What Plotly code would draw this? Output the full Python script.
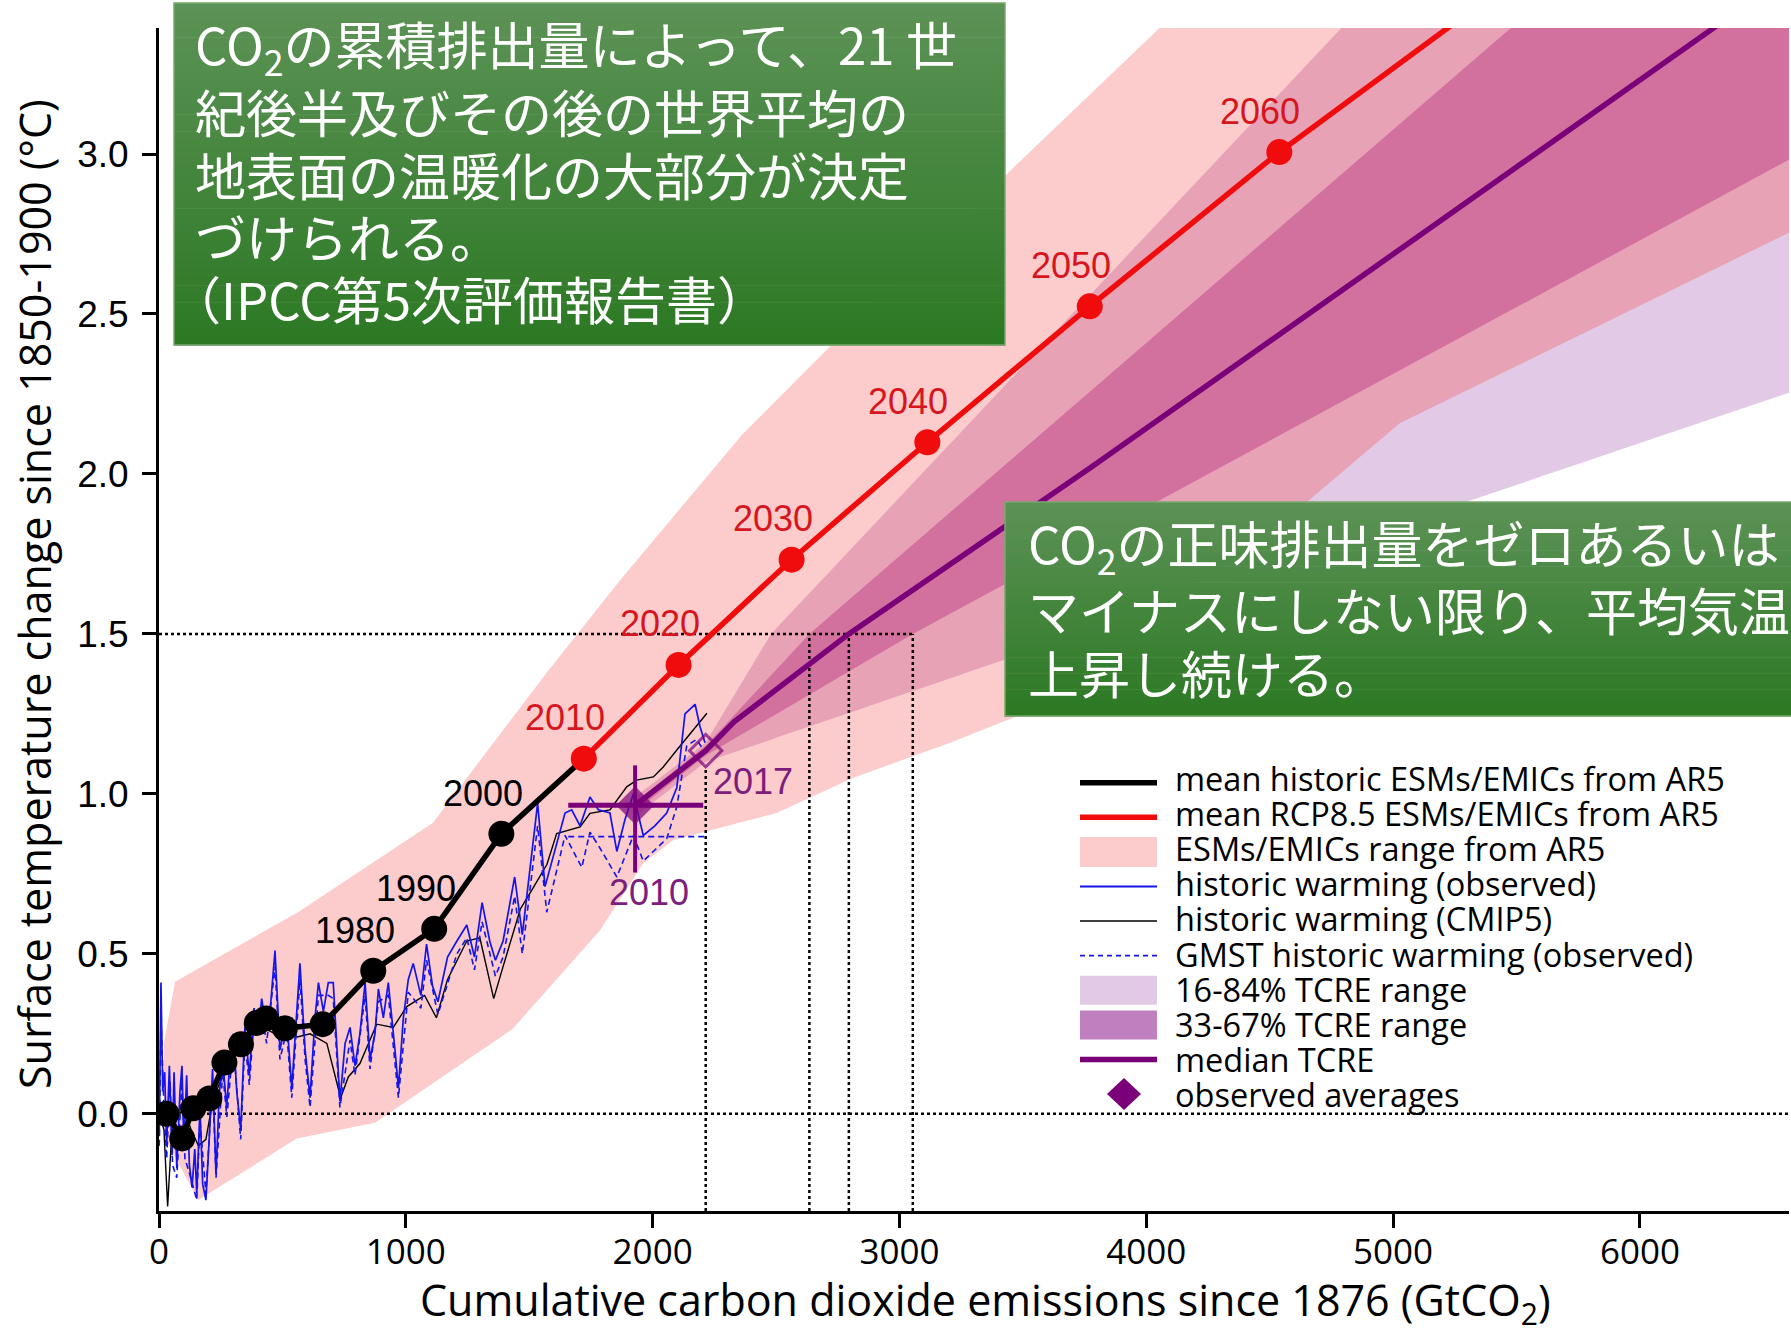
import numpy as np
import plotly.graph_objects as go

# ---------------------------------------------------------------- data
# mean historic ESMs/EMICs from AR5 (decadal means, 1880-2000)
hist_x = [30, 94, 139, 204, 265, 332, 396, 434, 510, 663, 868, 1115, 1387]
hist_y = [0.00, -0.077, 0.017, 0.048, 0.160, 0.217, 0.284, 0.298, 0.267, 0.280, 0.447, 0.578, 0.875]
hist_years = ["1880", "1890", "1900", "1910", "1920", "1930", "1940",
              "1950", "1960", "1970", "1980", "1990", "2000"]
hist_labelled = ["1980", "1990", "2000"]

# mean RCP8.5 ESMs/EMICs from AR5 (decadal means, 2010-2070)
rcp_x = [1721, 2105, 2563, 3113, 3771, 4539, 5390]
rcp_y = [1.110, 1.403, 1.732, 2.099, 2.524, 3.006, 3.490]
rcp_years = ["2010", "2020", "2030", "2040", "2050", "2060", "2070"]

# ESMs/EMICs range from AR5 (upper / lower envelope)
esm_upper_x = [20, 65, 563, 1110, 1572, 1868, 2364, 2780, 3478, 4053, 4300]
esm_upper_y = [0.22, 0.413, 0.63, 0.91, 1.38, 1.668, 2.124, 2.446, 2.97, 3.393, 3.58]
esm_lower_x = [20, 159, 558, 875, 1432, 1787, 1962, 2084, 2502, 2813, 3205, 3500, 4660, 5028, 6601, 6700]
esm_lower_y = [-0.07, -0.27, -0.077, -0.028, 0.265, 0.574, 0.783, 0.856, 0.94, 1.05, 1.16, 1.25, 1.918, 2.159, 2.753, 2.79]

# TCRE projections from the observed averages
tcre_med_x = [1929, 2215, 2330, 2795, 3775, 6309, 6750]
tcre_med_y = [0.964, 1.135, 1.225, 1.500, 2.020, 3.400, 3.640]
tcre33_up_x = [1929, 2215, 2635, 5486, 5800]
tcre33_up_y = [0.975, 1.150, 1.500, 3.400, 3.610]
tcre67_lo_x = [1929, 2215, 3054, 6601, 6700]
tcre67_lo_y = [0.945, 1.120, 1.500, 2.981, 3.022]
tcre16_up_x = [1929, 2215, 2480, 4798, 5000]
tcre16_up_y = [0.990, 1.160, 1.500, 3.400, 3.566]
tcre84_lo_x = [1929, 2215, 5316, 6601, 6700]
tcre84_lo_y = [0.930, 1.100, 1.918, 2.253, 2.279]

# historic warming (observed)
obs_x = [1, 8, 15, 23, 31, 42, 53, 61, 72, 85, 93, 101, 112, 123, 134, 145, 153, 166, 177, 190,
         204, 217, 231, 244, 258, 274, 288, 301, 315, 331, 348, 366, 385, 402, 416, 436, 452, 470,
         490, 517, 538, 555, 571, 592, 612, 632, 646, 666, 686, 706, 733, 754, 774, 794, 814, 835,
         855, 875, 889, 909, 929, 956, 970, 990, 1010, 1030, 1061, 1084, 1108, 1130, 1169, 1207,
         1247, 1278, 1309, 1340, 1363, 1394, 1441, 1472, 1495, 1534, 1564, 1598, 1645, 1672, 1706,
         1746, 1780, 1827, 1855, 1888, 1922, 1962, 2009, 2057, 2098, 2131, 2172, 2192, 2212]
obs_y = [-0.07, 0.41, 0.07, 0.13, -0.10, 0.15, -0.13, 0.13, -0.17, 0.07, 0.15, -0.11, 0.12, -0.16,
         -0.23, -0.11, -0.25, 0.02, -0.22, -0.27, -0.07, 0.14, -0.19, 0.06, 0.17, 0.02, 0.17, 0.25,
         0.07, -0.05, 0.27, 0.12, 0.33, 0.25, 0.36, 0.26, 0.34, 0.51, 0.20, 0.30, 0.08, 0.30, 0.47,
         0.20, 0.05, 0.30, 0.41, 0.32, 0.41, 0.41, 0.04, 0.22, 0.27, 0.15, 0.25, 0.41, 0.17, 0.25,
         0.39, 0.30, 0.41, 0.20, 0.08, 0.30, 0.42, 0.47, 0.37, 0.53, 0.40, 0.35, 0.49, 0.54, 0.59,
         0.49, 0.66, 0.54, 0.48, 0.54, 0.74, 0.56, 0.71, 0.97, 0.71, 0.81, 0.94, 0.95, 0.90, 0.99,
         0.95, 0.94, 0.82, 0.92, 1.00, 0.87, 0.90, 0.94, 1.02, 1.25, 1.28, 1.21, 1.16]

# GMST historic warming (observed)
gmst_x = [1, 8, 20, 31, 45, 55, 72, 93, 105, 125, 153, 166, 190, 217, 231, 258, 275, 301, 331,
          348, 366, 385, 416, 436, 470, 490, 517, 538, 571, 592, 612, 646, 686, 706, 733, 774, 794,
          835, 855, 889, 929, 970, 1010, 1061, 1084, 1130, 1207, 1247, 1278, 1309, 1363, 1394, 1441,
          1472, 1534, 1571, 1645, 1713, 1746, 1787, 1855, 1922, 1962, 2057, 2098, 2138, 2178, 2212]
gmst_y = [-0.10, 0.30, 0.02, -0.14, 0.10, -0.16, -0.20, 0.10, -0.14, -0.19, -0.27, -0.02, -0.25,
          0.10, -0.20, 0.13, -0.01, 0.22, -0.08, 0.23, 0.09, 0.29, 0.32, 0.22, 0.46, 0.17, 0.26,
          0.05, 0.42, 0.17, 0.02, 0.37, 0.37, 0.36, 0.02, 0.23, 0.12, 0.37, 0.14, 0.35, 0.37, 0.05,
          0.38, 0.33, 0.48, 0.31, 0.50, 0.55, 0.45, 0.60, 0.43, 0.49, 0.68, 0.50, 0.90, 0.63, 0.87,
          0.77, 0.88, 0.83, 0.74, 0.87, 0.79, 0.86, 0.96, 1.15, 1.17, 1.13]

# historic warming (CMIP5)
cmip_x = [0, 20, 35, 51, 70, 99, 130, 160, 190, 220, 260, 300, 340, 380, 420, 470, 520, 560, 612,
          680, 736, 767, 814, 882, 949, 1004, 1076, 1124, 1169, 1247, 1300, 1356, 1394, 1464, 1511,
          1572, 1611, 1652, 1706, 1746, 1827, 1895, 1935, 2003, 2043, 2098, 2152, 2220]
cmip_y = [0.00, -0.05, -0.29, -0.07, -0.02, 0.02, -0.05, -0.10, -0.08, 0.05, 0.12, 0.18, 0.22,
          0.25, 0.27, 0.25, 0.26, 0.24, 0.25, 0.22, 0.05, 0.115, 0.157, 0.28, 0.27, 0.335, 0.37,
          0.30, 0.42, 0.54, 0.55, 0.36, 0.46, 0.64, 0.70, 0.78, 0.876, 0.886, 0.897, 0.939, 0.95,
          1.022, 1.043, 1.053, 1.084, 1.137, 1.189, 1.252]

# observed averages (2010 period mean with ranges, 2017 estimate)
avg_x = [1929, 2215]
avg_y = [0.964, 1.135]
avg_labels = ["2010", "2017"]
avg_x_minus = [271, 0]
avg_x_plus = [276, 0]
avg_y_minus = [0.21, 0]
avg_y_plus = [0.125, 0]
gmst_avg_x = [1658, 2212]
gmst_avg_y = [0.866, 0.866]

# 1.5 degC threshold and the matching cumulative emissions
threshold = 1.5
budget_x = [2635, 2795, 3054]

legend_labels = [
    "mean historic ESMs/EMICs from AR5",
    "mean RCP8.5 ESMs/EMICs from AR5",
    "ESMs/EMICs range from AR5",
    "historic warming (observed)",
    "historic warming (CMIP5)",
    "GMST historic warming (observed)",
    "16-84% TCRE range",
    "33-67% TCRE range",
    "median TCRE",
    "observed averages",
]

box1_lines = [
    "CO<sub>2</sub>の累積排出量によって、21 世",
    "紀後半及びその後の世界平均の",
    "地表面の温暖化の大部分が決定",
    "づけられる。",
    "（IPCC第5次評価報告書）",
]
box2_lines = [
    "CO<sub>2</sub>の正味排出量をゼロあるいは",
    "マイナスにしない限り、平均気温は",
    "上昇し続ける。",
]

x_title = "Cumulative carbon dioxide emissions since 1876 (GtCO<sub>2</sub>)"
y_title = "Surface temperature change since 1850-1900 (°C)"
x_ticks = [0, 1000, 2000, 3000, 4000, 5000, 6000]
y_ticks = [0.0, 0.5, 1.0, 1.5, 2.0, 2.5, 3.0]

# ---------------------------------------------------------------- layout geometry
W, H = 1791, 1331
L, R, T, B = 159, 1789, 28, 1211
X_RANGE = [0, 6604]
Y_RANGE = [-0.304, 3.394]
FAR_X, FAR_Y = 7200, 4.6          # polygon closure beyond the visible area


def pxx(p):
    return (p - L) / (R - L)


def pxy(p):
    return (B - p) / (B - T)


# colours
PINK = "rgb(252,203,203)"
TCRE_OUT = "rgb(226,201,230)"
TCRE_OUT_ON_PINK = "rgb(232,162,181)"
TCRE_IN = "rgb(211,113,158)"
TCRE_IN_KEY = "rgb(192,128,192)"
PURPLE = "rgb(122,0,122)"
PURPLE_TXT = "rgb(125,30,125)"
RED = "rgb(240,12,12)"
RED_TXT = "rgb(214,22,30)"
BLUE = "rgb(20,20,235)"

fig = go.Figure()


def area(xs, ys, color):
    fig.add_trace(go.Scatter(x=xs, y=ys, fill="toself", fillcolor=color, mode="none",
                             hoverinfo="skip", showlegend=False))


def line(xs, ys, color, width, dash="solid"):
    fig.add_trace(go.Scatter(x=xs, y=ys, mode="lines", hoverinfo="skip", showlegend=False,
                             line=dict(color=color, width=width, dash=dash)))


# ESMs/EMICs range
area(esm_upper_x + [FAR_X] + esm_lower_x[::-1],
     esm_upper_y + [FAR_Y] + esm_lower_y[::-1], PINK)

# 16-84 % TCRE range (full extent)
area(tcre16_up_x + [FAR_X] + tcre84_lo_x[::-1],
     tcre16_up_y + [FAR_Y] + tcre84_lo_y[::-1], TCRE_OUT)

# part of the 16-84 % range that lies inside the ESM range
xs = np.linspace(tcre16_up_x[0], tcre84_lo_x[-1], 800)
up = np.minimum(np.interp(xs, tcre16_up_x + [FAR_X], tcre16_up_y + [FAR_Y]),
                np.interp(xs, esm_upper_x + [FAR_X], esm_upper_y + [FAR_Y]))
lo = np.maximum(np.interp(xs, tcre84_lo_x, tcre84_lo_y),
                np.interp(xs, esm_lower_x, esm_lower_y))
lo = np.minimum(lo, up)
area(list(xs) + list(xs[::-1]), list(up) + list(lo[::-1]), TCRE_OUT_ON_PINK)

# 33-67 % TCRE range
area(tcre33_up_x + [FAR_X] + tcre67_lo_x[::-1],
     tcre33_up_y + [FAR_Y] + tcre67_lo_y[::-1], TCRE_IN)

# dotted reference lines
DOT = "3px,3px"
line([0, X_RANGE[1]], [0, 0], "black", 2.5, DOT)
line([0, max(budget_x)], [threshold, threshold], "black", 2.5, DOT)
for bx in budget_x:
    line([bx, bx], [Y_RANGE[0], threshold], "black", 2.5, DOT)
line([avg_x[1], avg_x[1]], [Y_RANGE[0], avg_y[1] - 0.05], "black", 2.5, DOT)

# observed / modelled historic series
line(gmst_avg_x, gmst_avg_y, BLUE, 1.8, "6px,4px")
line(cmip_x, cmip_y, "black", 1.4)
line(gmst_x, gmst_y, BLUE, 1.6, "6px,4px")
line(obs_x, obs_y, BLUE, 1.7)

# median TCRE
line(tcre_med_x, tcre_med_y, PURPLE, 5.5)

# mean historic ESMs/EMICs (line continues to the first RCP point)
line(hist_x + rcp_x[:1], hist_y + rcp_y[:1], "black", 5.5)
fig.add_trace(go.Scatter(x=hist_x, y=hist_y, mode="markers", hoverinfo="skip", showlegend=False,
                         marker=dict(color="black", size=26, line=dict(width=0))))

# mean RCP8.5
fig.add_trace(go.Scatter(x=rcp_x, y=rcp_y, mode="lines+markers", hoverinfo="skip",
                         showlegend=False, line=dict(color=RED, width=5.5),
                         marker=dict(color=RED, size=26, line=dict(width=0))))

# observed averages
fig.add_trace(go.Scatter(
    x=avg_x, y=avg_y, mode="markers", hoverinfo="skip", showlegend=False,
    marker=dict(symbol=["diamond", "diamond-open"], size=[26, 25], color=PURPLE,
                line=dict(color=PURPLE, width=3)),
    error_x=dict(type="data", symmetric=False, array=avg_x_plus, arrayminus=avg_x_minus,
                 color=PURPLE, thickness=5, width=0),
    error_y=dict(type="data", symmetric=False, array=avg_y_plus, arrayminus=avg_y_minus,
                 color=PURPLE, thickness=4, width=0),
))

annotations = []
LBL_FONT = "Liberation Sans, Arial, sans-serif"


def year_label(x, y, text, color, dx, dy):
    annotations.append(dict(x=x, y=y, xref="x", yref="y", text=text, showarrow=False,
                            xshift=dx, yshift=dy, xanchor="center", yanchor="middle",
                            font=dict(family=LBL_FONT, size=36, color=color)))


for x, y, yr in zip(hist_x, hist_y, hist_years):
    if yr in hist_labelled:
        year_label(x, y, yr, "black", -18, 40)
for x, y, yr in zip(rcp_x, rcp_y, rcp_years):
    if y < Y_RANGE[1]:
        year_label(x, y, yr, RED_TXT, -19, 41)
year_label(avg_x[0], avg_y[0], avg_labels[0], PURPLE_TXT, 14, -87)
year_label(avg_x[1], avg_y[1], avg_labels[1], PURPLE_TXT, 47, -31)

# axis titles
annotations.append(dict(x=pxx(986), y=pxy(1302), xref="paper", yref="paper", text=x_title,
                        showarrow=False, xanchor="center", yanchor="middle",
                        font=dict(family="Open Sans", size=43, color="black")))
annotations.append(dict(x=pxx(34), y=pxy(594), xref="paper", yref="paper", text=y_title,
                        showarrow=False, xanchor="center", yanchor="middle", textangle=-90,
                        font=dict(family="Open Sans", size=43, color="black")))

shapes = []

# ---------------------------------------------------------------- key
KEY_X0, KEY_X1, KEY_TXT = 1080, 1157, 1173
KEY_ROW0, KEY_STEP = 782.7, 34.6         # sample rows
TXT_ROW0, TXT_STEP = 778.0, 35.2         # label rows
key_styles = [
    ("line", "black", 5.5, "solid"),
    ("line", RED, 5.5, "solid"),
    ("rect", PINK, 30, None),
    ("line", BLUE, 1.8, "solid"),
    ("line", "black", 1.5, "solid"),
    ("line", BLUE, 1.8, "dash"),
    ("rect", TCRE_OUT, 29, None),
    ("rect", TCRE_IN_KEY, 29, None),
    ("line", PURPLE, 5.5, "solid"),
    ("diamond", PURPLE, 17, None),
]
for i, (label, (kind, col, size, dash)) in enumerate(zip(legend_labels, key_styles)):
    yc = KEY_ROW0 + i * KEY_STEP
    if kind == "line":
        shapes.append(dict(type="line", xref="paper", yref="paper", x0=pxx(KEY_X0), x1=pxx(KEY_X1),
                           y0=pxy(yc), y1=pxy(yc), layer="above",
                           line=dict(color=col, width=size,
                                     dash="5px,4px" if dash == "dash" else "solid")))
    elif kind == "rect":
        shapes.append(dict(type="rect", xref="paper", yref="paper", x0=pxx(KEY_X0), x1=pxx(KEY_X1),
                           y0=pxy(yc + size / 2), y1=pxy(yc - size / 2), layer="above",
                           fillcolor=col, line=dict(width=0)))
    else:
        shapes.append(dict(type="path", xref="paper", yref="paper", xsizemode="pixel",
                           ysizemode="pixel", xanchor=pxx(1124), yanchor=pxy(yc), layer="above",
                           path=f"M -{size} 0 L 0 {size - 1} L {size} 0 L 0 -{size - 1} Z",
                           fillcolor=col, line=dict(width=0)))
    annotations.append(dict(x=pxx(KEY_TXT), y=pxy(TXT_ROW0 + i * TXT_STEP), xref="paper",
                            yref="paper", text=label, showarrow=False, xanchor="left",
                            yanchor="middle",
                            font=dict(family="Open Sans", size=32.5, color="black")))

# ---------------------------------------------------------------- message boxes
G_TOP = (92, 146, 86)
G_BOT = (44, 121, 36)


def green_box(x0, x1, y_top, y_bot, n=40):
    for k in range(n):
        t = k / (n - 1)
        c = tuple(round(a + (b - a) * t) for a, b in zip(G_TOP, G_BOT))
        ya = y_top + (y_bot - y_top) * k / n
        yb = y_top + (y_bot - y_top) * (k + 1) / n
        shapes.append(dict(type="rect", xref="paper", yref="paper", x0=pxx(x0), x1=pxx(x1),
                           y0=pxy(yb + 0.6), y1=pxy(ya), layer="above",
                           fillcolor=f"rgb{c}", line=dict(width=0)))
    shapes.append(dict(type="rect", xref="paper", yref="paper", x0=pxx(x0), x1=pxx(x1),
                       y0=pxy(y_bot), y1=pxy(y_top), layer="above",
                       line=dict(color="rgb(120,168,110)", width=1.5)))


def box_text(lines, x_lefts, centers):
    for txt, xl, yc in zip(lines, x_lefts, centers):
        annotations.append(dict(x=pxx(xl), y=pxy(yc), xref="paper", yref="paper", text=txt,
                                showarrow=False, xanchor="left", yanchor="middle",
                                font=dict(family="Noto Sans CJK JP", size=51, color="white")))


green_box(174, 1005, 3, 345)
box_text(box1_lines, [193, 193, 193, 193, 168], [46, 111, 174, 236, 298])
green_box(1005, 1795, 502, 716)
box_text(box2_lines, [1026, 1026, 1026], [545, 609, 672])

fig.update_layout(
    width=W, height=H, template="none",
    margin=dict(l=L, r=W - R, t=T, b=H - B, pad=0),
    paper_bgcolor="white", plot_bgcolor="white",
    showlegend=False, hovermode=False,
    annotations=annotations, shapes=shapes,
    xaxis=dict(range=X_RANGE, showgrid=False, zeroline=False, showline=True, linecolor="black",
               linewidth=3, ticks="outside", ticklen=14, tickwidth=3, tickcolor="black",
               tickvals=x_ticks, ticktext=[str(v) for v in x_ticks], automargin=False,
               ticklabelstandoff=-6,
               tickfont=dict(family="Open Sans", size=35, color="black")),
    yaxis=dict(range=Y_RANGE, showgrid=False, zeroline=False, showline=True, linecolor="black",
               linewidth=3, ticks="outside", ticklen=14, tickwidth=3, tickcolor="black",
               tickvals=y_ticks, ticktext=[f"{v:.1f}" for v in y_ticks], automargin=False,
               ticklabelstandoff=6,
               tickfont=dict(family="Liberation Sans, Arial, sans-serif", size=37, color="black")),
)

fig.write_html("out.html", include_plotlyjs=True, config={"displayModeBar": False})
